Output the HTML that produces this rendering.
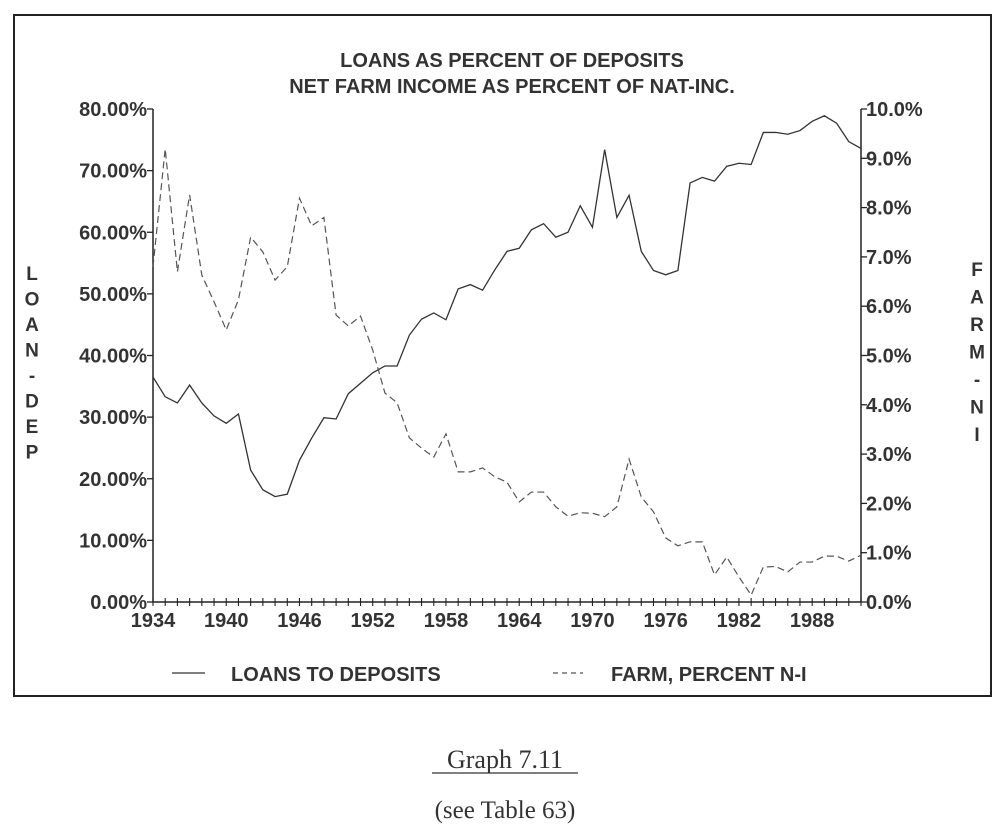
<!DOCTYPE html>
<html><head><meta charset="utf-8"><style>
html,body{margin:0;padding:0;background:#fff;}
svg{display:block;}
.sans{font-family:"Liberation Sans",Arial,sans-serif;}
.serif{font-family:"Liberation Serif","Times New Roman",serif;}
</style></head><body>
<svg id="chart" width="1005" height="835" viewBox="0 0 1005 835">
<rect x="14" y="15" width="977" height="681" fill="none" stroke="#222" stroke-width="2"/>
<text class="sans" x="512" y="67" text-anchor="middle" font-size="20" font-weight="bold" fill="#333">LOANS AS PERCENT OF DEPOSITS</text>
<text class="sans" x="512" y="93" text-anchor="middle" font-size="20" font-weight="bold" fill="#333">NET FARM INCOME AS PERCENT OF NAT-INC.</text>
<g id="axes"></g>
<g id="series"></g>
<g>
<line x1="172" y1="673" x2="205" y2="673" stroke="#333" stroke-width="1.3"/>
<text class="sans" x="231" y="681" font-size="20" font-weight="bold" fill="#333">LOANS TO DEPOSITS</text>
<line x1="553" y1="673" x2="583" y2="673" stroke="#555" stroke-width="1.2" stroke-dasharray="5,4"/>
<text class="sans" x="611" y="681" font-size="20" font-weight="bold" fill="#333">FARM, PERCENT N-I</text>
</g>
<text class="serif" x="505" y="768" text-anchor="middle" font-size="26" fill="#333">Graph 7.11</text>
<line x1="432" y1="773" x2="578" y2="773" stroke="#333" stroke-width="1.3"/>
<text class="serif" x="505" y="818" text-anchor="middle" font-size="25" fill="#333">(see Table 63)</text>
</svg>
<script>
const years=[];for(let y=1934;y<=1992;y++)years.push(y);
const loansToDeposits=[36.5,33.3,32.3,35.2,32.3,30.2,29,30.5,21.4,18.2,17.1,17.5,23,26.6,29.9,29.7,33.8,35.5,37.2,38.3,38.3,43.3,45.9,46.9,45.8,50.8,51.5,50.6,53.9,
56.9,57.4,60.4,61.4,59.2,60,64.3,60.8,73.4,62.4,66,56.9,53.8,53.1,53.8,68,68.9,68.3,70.7,71.2,71,76.2,76.2,75.9,76.5,78,78.9,77.7,74.7,73.6];
const farmPercentNI=[6.8,9.19,6.7,8.26,6.63,6.09,5.52,6.13,7.4,7.1,6.53,6.8,8.19,7.63,7.8,5.82,5.6,5.8,5.11,4.24,4.04,3.33,3.12,2.94,3.41,2.64,2.64,2.72,2.54,
2.43,2.03,2.23,2.23,1.93,1.74,1.81,1.8,1.73,1.93,2.9,2.13,1.83,1.3,1.14,1.22,1.22,0.55,0.91,0.51,0.14,0.71,0.72,0.61,0.81,0.81,0.93,0.93,0.83,0.95];
const leftTicks=["0.00%","10.00%","20.00%","30.00%","40.00%","50.00%","60.00%","70.00%","80.00%"];
const rightTicks=["0.0%","1.0%","2.0%","3.0%","4.0%","5.0%","6.0%","7.0%","8.0%","9.0%","10.0%"];
const yearLabels=[1934,1940,1946,1952,1958,1964,1970,1976,1982,1988];
const X0=153,X1=861,Y0=602,Y1=109;
const xs=y=>X0+(y-1934)/(1992-1934)*(X1-X0);
const yl=v=>Y0-v/80*(Y0-Y1);
const yr=v=>Y0-v/10*(Y0-Y1);
const NS="http://www.w3.org/2000/svg";
function mk(tag,attrs,parent,txt){const e=document.createElementNS(NS,tag);for(const k in attrs)e.setAttribute(k,attrs[k]);if(txt!==undefined)e.textContent=txt;parent.appendChild(e);return e;}
const ax=document.getElementById('axes'),se=document.getElementById('series');
let e;
e=mk('line',{x1:X0,y1:Y1,x2:X0,y2:Y0,stroke:'#222','stroke-width':1.5},ax);


e=mk('line',{x1:X1,y1:Y1,x2:X1,y2:Y0,stroke:'#222','stroke-width':1.5},ax);


e=mk('line',{x1:X0,y1:Y0,x2:X1,y2:Y0,stroke:'#222','stroke-width':1.5},ax);


leftTicks.forEach((t,i)=>{const y=yl(i*10);
 e=mk('line',{x1:X0-6,y1:y,x2:X0,y2:y,stroke:'#222','stroke-width':1.3},ax);
 
 
 e=mk('text',{class:'sans',x:X0-6,y:y+7,'text-anchor':'end','font-size':20,'font-weight':'bold',fill:'#333'},ax,t);
 
 });
rightTicks.forEach((t,i)=>{const y=yr(i);
 e=mk('line',{x1:X1,y1:y,x2:X1+6,y2:y,stroke:'#222','stroke-width':1.3},ax);
 
 
 e=mk('text',{class:'sans',x:X1+5,y:y+7,'font-size':20,'font-weight':'bold',fill:'#333'},ax,t);
 
 });
years.forEach(y=>{const x=xs(y);
 e=mk('line',{x1:x,y1:Y0-4,x2:x,y2:Y0+4,stroke:'#222','stroke-width':1.1},ax);
 
 });
yearLabels.forEach(y=>{
 e=mk('text',{class:'sans',x:xs(y),y:Y0+25,'text-anchor':'middle','font-size':20,'font-weight':'bold',fill:'#333'},ax,String(y));
 
 });
"LOAN-DEP".split('').forEach((c,i)=>{
 e=mk('text',{class:'sans',x:32,y:280+i*25.5,'text-anchor':'middle','font-size':19,'font-weight':'bold',fill:'#333'},ax,c);
 
 });
"FARM-NI".split('').forEach((c,i)=>{
 e=mk('text',{class:'sans',x:977,y:276+i*27.5,'text-anchor':'middle','font-size':19,'font-weight':'bold',fill:'#333'},ax,c);
 
 });
e=mk('polyline',{points:loansToDeposits.map((v,i)=>xs(years[i])+','+yl(v)).join(' '),fill:'none',stroke:'#333','stroke-width':1.3},se);


e=mk('polyline',{points:farmPercentNI.map((v,i)=>xs(years[i])+','+yr(v)).join(' '),fill:'none',stroke:'#555','stroke-width':1.2,'stroke-dasharray':'7,4'},se);


</script>
</body></html>
